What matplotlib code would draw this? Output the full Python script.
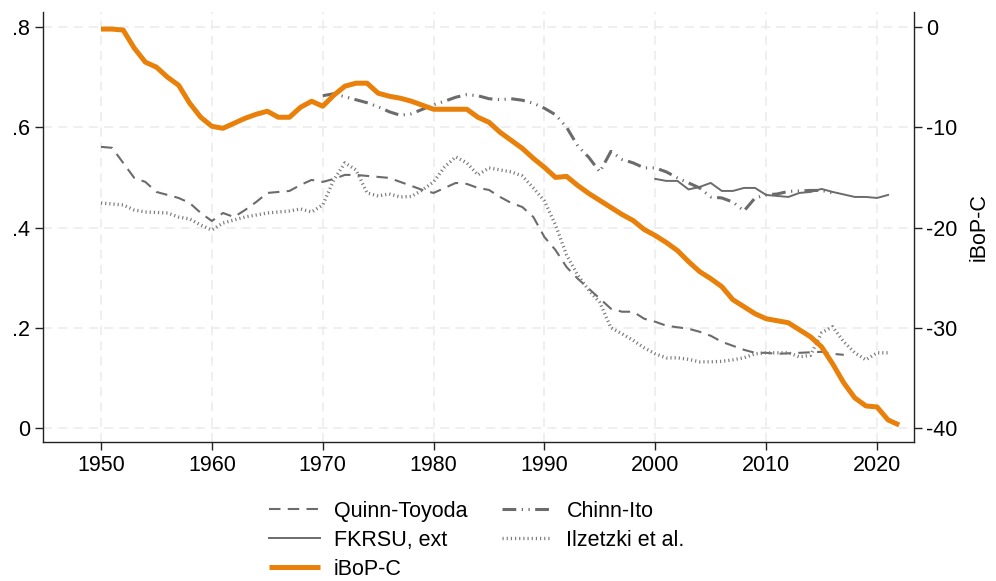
import numpy as np
import matplotlib
matplotlib.use("Agg")
from matplotlib import pyplot as plt

plt.rcParams['font.family'] = ['Liberation Sans', 'DejaVu Sans']
plt.rcParams['axes.unicode_minus'] = False

# iBoP-C, right axis
ibop_years = list(range(1950, 2023))
ibop = [-0.2, -0.2, -0.3, -2.1, -3.5, -4.0, -5.0, -5.8, -7.6, -9.0,
        -9.9, -10.1, -9.6, -9.1, -8.7, -8.4, -9.0, -9.0, -8.0, -7.4,
        -7.9, -6.8, -5.9, -5.6, -5.6, -6.6, -6.9, -7.1, -7.4, -7.8,
        -8.2, -8.2, -8.2, -8.2, -9.0, -9.5, -10.5, -11.3, -12.1, -13.1,
        -14.0, -15.0, -14.9, -15.8, -16.6, -17.3, -18.0, -18.7, -19.3, -20.2,
        -20.8, -21.5, -22.3, -23.4, -24.4, -25.1, -25.9, -27.2, -27.9, -28.6,
        -29.1, -29.3, -29.5, -30.2, -30.9, -31.9, -33.6, -35.5, -37.0, -37.8,
        -37.9, -39.2, -39.7]

# Quinn-Toyoda
qt_years = list(range(1950, 2018))
qt = [.561, .559, .529, .499, .491, .471, .465, .459, .449, .429,
      .413, .429, .421, .435, .451, .469, .471, .473, .485, .495,
      .491, .497, .505, .505, .503, .501, .499, .491, .483, .475,
      .469, .479, .489, .487, .479, .475, .461, .449, .441, .421,
      .381, .355, .321, .298, .278, .258, .238, .232, .232, .218,
      .212, .204, .201, .198, .192, .184, .172, .164, .156, .150,
      .150, .148, .149, .150, .151, .152, .148, .146]

# Ilzetzki et al.
ilz_years = list(range(1950, 2022))
ilz = [.449, .447, .445, .435, .431, .430, .429, .421, .417, .405,
       .395, .409, .415, .421, .425, .429, .431, .433, .437, .431,
       .445, .495, .529, .515, .469, .463, .467, .461, .462, .475,
       .491, .521, .541, .529, .505, .519, .515, .511, .503, .479,
       .453, .405, .345, .305, .275, .250, .200, .188, .175, .160,
       .148, .140, .140, .137, .132, .132, .133, .136, .140, .148,
       .150, .150, .150, .142, .145, .190, .202, .172, .150, .136,
       .150, .150]

# Chinn-Ito
ci_years = list(range(1970, 2017))
ci = [.663, .667, .661, .655, .649, .641, .631, .624, .627, .636,
      .645, .652, .660, .665, .663, .657, .655, .657, .654, .648,
      .638, .625, .600, .563, .540, .511, .552, .536, .529, .519,
      .519, .511, .499, .489, .479, .461, .459, .451, .433, .459,
      .465, .467, .472, .473, .474, .474, .469]

# FKRSU, ext
fk_years = list(range(2000, 2022))
fk = [.497, .493, .493, .476, .481, .489, .473, .473, .479, .479,
      .465, .463, .461, .469, .471, .477, .471, .466, .461, .461,
      .459, .465]

gray = '#6b6b6b'
orange = '#e8800a'
fs = 15.5

fig = plt.figure(figsize=(9.96, 5.81), dpi=100)
ax1 = fig.add_axes([0.0432, 0.2392, 0.8745, 0.7401])
ax2 = ax1.twinx()

l_qt, = ax1.plot(qt_years, qt, color=gray, lw=1.5, dashes=(5.5, 3.5), label='Quinn-Toyoda')
l_fk, = ax1.plot(fk_years, fk, color=gray, lw=1.4, label='FKRSU, ext')
l_ci, = ax1.plot(ci_years, ci, color=gray, lw=2.2,
                 dashes=(4.5, 1.8, 0.4, 1.8, 0.4, 1.8), label='Chinn-Ito')
l_ilz, = ax1.plot(ilz_years, ilz, color='#7a7a7a', lw=2.4, dashes=(0.35, 0.9),
                  dash_capstyle='butt', label='Ilzetzki et al.')
l_ib, = ax2.plot(ibop_years, ibop, color=orange, lw=3.6, label='iBoP-C',
                 solid_capstyle='butt')

ax1.set_xlim(1944.77, 2023.34)
ax1.set_ylim(-0.028, 0.830)
ax2.set_ylim(-41.4, 1.5)

ax1.set_xticks(range(1950, 2021, 10))
ax1.set_yticks([0, .2, .4, .6, .8])
ax1.set_yticklabels(['0', '.2', '.4', '.6', '.8'])
ax2.set_yticks([0, -10, -20, -30, -40])

ax1.grid(True, color='#ebebeb', lw=1.1, dashes=(6, 4))
ax1.set_axisbelow(True)

for ax in (ax1, ax2):
    ax.spines['top'].set_visible(False)
    for s in ax.spines.values():
        s.set_color('#222222')
        s.set_linewidth(1.0)
ax1.spines['right'].set_visible(False)
ax2.spines['left'].set_visible(False)
ax2.spines['bottom'].set_visible(False)

ax1.tick_params(axis='both', labelsize=fs, length=5.5, width=1, color='#222222', pad=4)
ax2.tick_params(axis='y', labelsize=fs, length=5.5, width=1, color='#222222', pad=3)
ax2.set_ylabel('iBoP-C', fontsize=fs, labelpad=8)

fig.legend(handles=[l_qt, l_fk, l_ib, l_ci, l_ilz], ncol=2, loc='upper center',
           bbox_to_anchor=(0.479, 0.157), frameon=False, fontsize=fs,
           handlelength=2.35, handletextpad=0.65, columnspacing=1.6,
           labelspacing=0.38, borderpad=0)

fig.savefig('out.png', dpi=100)
